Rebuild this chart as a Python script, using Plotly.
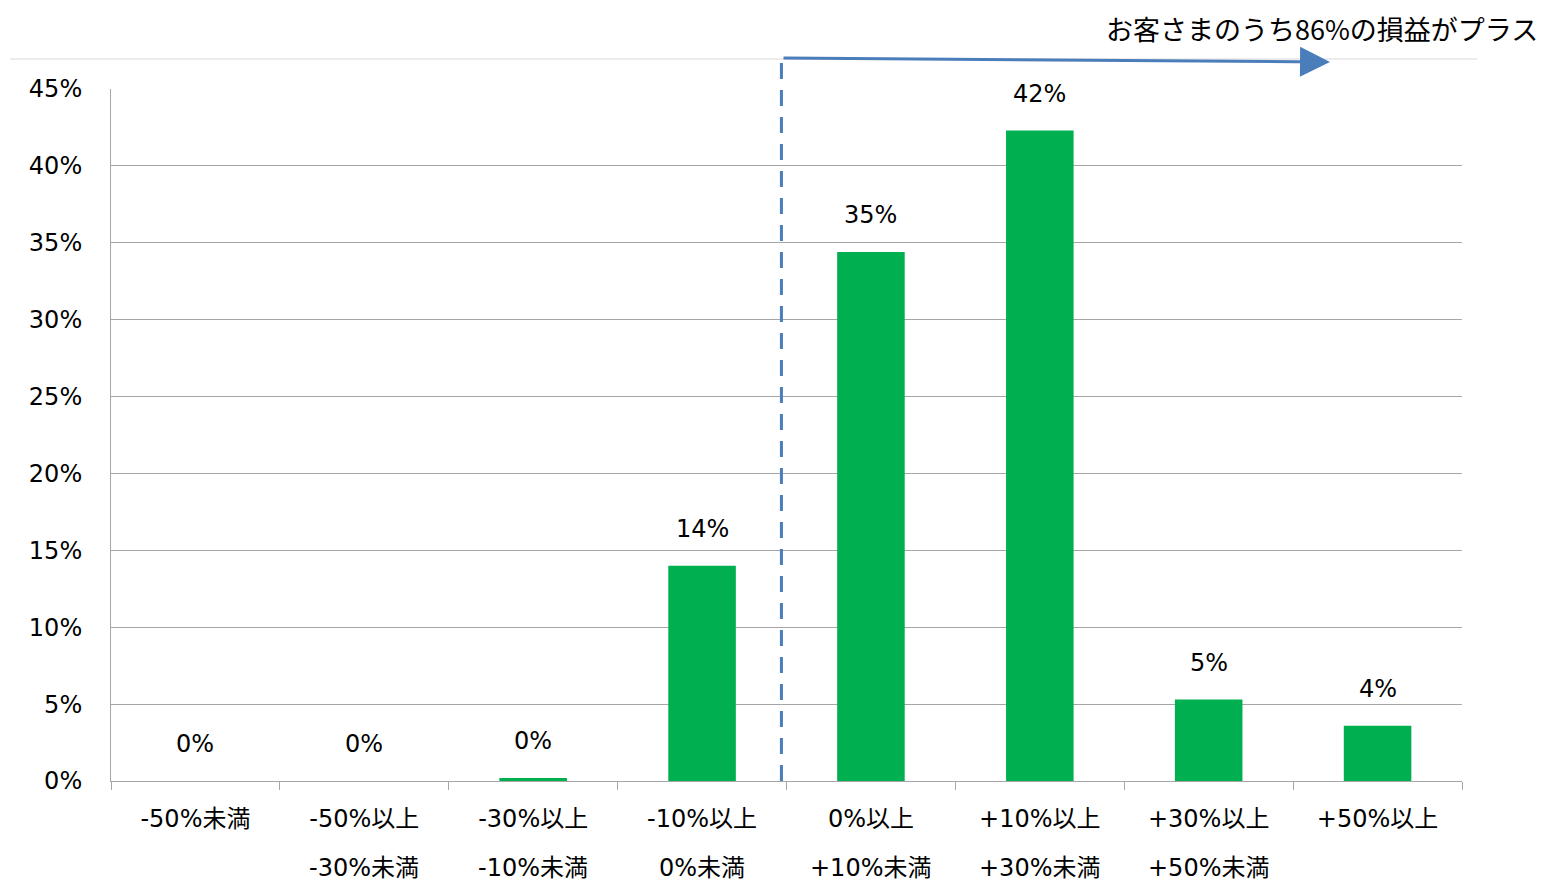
import plotly.graph_objects as go

categories = ["-50%未満", "-50%以上-30%未満", "-30%以上-10%未満", "-10%以上0%未満",
              "0%以上+10%未満", "+10%以上+30%未満", "+30%以上+50%未満", "+50%以上"]
label_line1 = ["-50%未満", "-50%以上", "-30%以上", "-10%以上", "0%以上", "+10%以上", "+30%以上", "+50%以上"]
label_line2 = ["", "-30%未満", "-10%未満", "0%未満", "+10%未満", "+30%未満", "+50%未満", ""]
values = [0.0, 0.0, 0.2, 14.0, 34.4, 42.3, 5.3, 3.6]
value_labels = ["0%", "0%", "0%", "14%", "35%", "42%", "5%", "4%"]
y_ticks = [0, 5, 10, 15, 20, 25, 30, 35, 40, 45]
title_text = "お客さまのうち86%の損益がプラス"

FONT = "DejaVu Sans, Noto Sans CJK JP"
BLUE = "#4A7EBB"
GREEN = "#00B050"
FS = 24

fig = go.Figure()
fig.add_trace(go.Bar(x=categories, y=values, marker_color=GREEN, marker_line_width=0,
                     hoverinfo="skip", showlegend=False))

annotations = []
for c, v, t in zip(categories, values, value_labels):
    annotations.append(dict(x=c, y=v, xref="x", yref="y", text=t, showarrow=False,
                            yanchor="middle", yshift=37,
                            font=dict(family=FONT, size=FS, color="#000000")))
for c, t in zip(categories, label_line2):
    if t:
        annotations.append(dict(x=c, y=-0.1257, xref="x", yref="paper", text=t, showarrow=False,
                                yanchor="middle", font=dict(family=FONT, size=FS, color="#000000")))
# title
annotations.append(dict(x=1.0577, y=1.0881, xref="paper", yref="paper", text=title_text,
                        showarrow=False, xanchor="right", yanchor="middle",
                        font=dict(family="Noto Sans CJK JP", size=27, color="#000000")))
# arrow
annotations.append(dict(x=0.9023, y=1.039, xref="paper", yref="paper", text="",
                        showarrow=True, axref="pixel", ayref="pixel", ax=-548, ay=-4,
                        arrowhead=2, arrowsize=2, arrowwidth=3, arrowcolor=BLUE,
                        standoff=0, startstandoff=0))

shapes = [
    dict(type="line", xref="paper", yref="paper", x0=-0.0747, x1=1.0114, y0=1.0433, y1=1.0433,
         line=dict(color="#D9D9D9", width=1)),
    dict(type="line", xref="x", yref="paper", x0=3.47, x1=3.47, y0=0, y1=1.0448,
         line=dict(color=BLUE, width=3, dash="16px,11px")),
]

fig.update_layout(
    width=1544, height=880,
    margin=dict(l=103, r=90, t=81, b=107),
    paper_bgcolor="white", plot_bgcolor="white",
    bargap=0.6,
    font=dict(family=FONT, size=FS, color="#000000"),
    annotations=annotations, shapes=shapes,
    xaxis=dict(type="category", tickmode="array", tickvals=categories, ticktext=label_line1,
               tickson="boundaries", ticks="outside", ticklen=8, tickcolor="#A6A6A6",
               showline=True, linecolor="#A6A6A6", linewidth=1, showgrid=False,
               ticklabelstandoff=16, tickfont=dict(family=FONT, size=FS, color="#000000"),
               range=[-0.5, 7.5]),
    yaxis=dict(range=[0, 45], tickvals=y_ticks, ticktext=[f"{v}%" for v in y_ticks],
               showgrid=True, gridcolor="#A6A6A6", gridwidth=1, showline=True,
               linecolor="#A6A6A6", linewidth=1, ticks="", zeroline=False,
               ticklabelstandoff=23, tickfont=dict(family=FONT, size=FS, color="#000000")),
)

fig.write_html("out.html")
